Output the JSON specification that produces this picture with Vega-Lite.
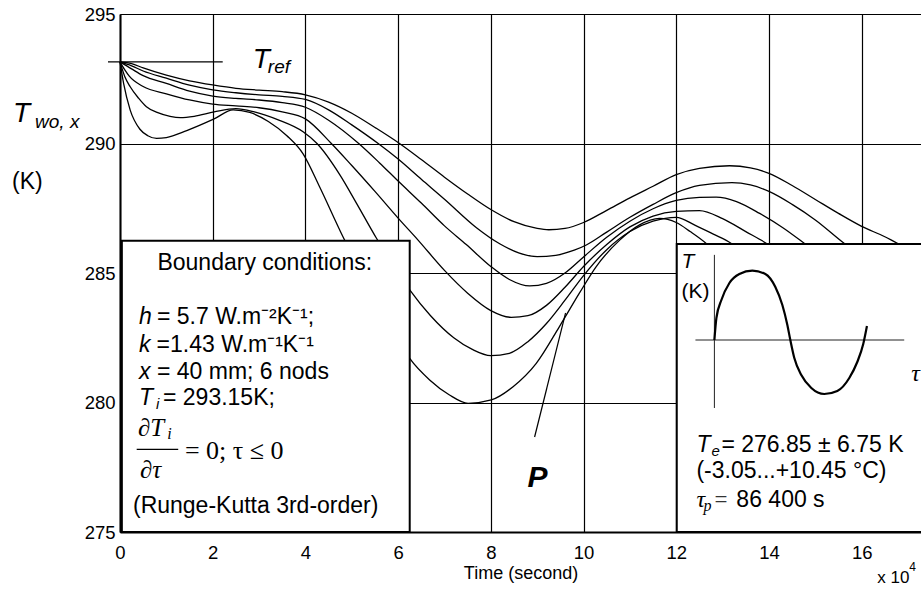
{
  "$schema": "https://vega.github.io/schema/vega-lite/v6.json",
  "width": 801,
  "height": 518,
  "autosize": {"type": "none"},
  "padding": {"left": 120, "top": 14, "right": 0, "bottom": 58},
  "background": "#ffffff",
  "config": {
    "view": {"stroke": null},
    "font": "Liberation Sans",
    "text": {"color": "#000"},
    "axis": {"grid": true, "gridColor": "#000", "gridWidth": 1.2, "gridOpacity": 1, "ticks": false, "domainColor": "#000", "domainWidth": 2, "labelFont": "Liberation Sans", "labelFontSize": 18.5, "labelColor": "#000", "labelOverlap": false, "titleFont": "Liberation Sans", "titleFontSize": 18, "titleFontWeight": "normal", "titleColor": "#000"},
    "axisX": {"labelPadding": 11, "labelFlush": false, "titlePadding": 3, "tickCount": 9},
    "axisY": {"labelPadding": 5, "tickCount": 5}
  },
  "datasets": {
    "curves": [
      {"node":1,"t":0,"T":293.15},{"node":1,"t":0.25,"T":293.08},{"node":1,"t":0.5,"T":292.92},{"node":1,"t":1,"T":292.64},{"node":1,"t":1.5,"T":292.42},{"node":1,"t":2,"T":292.26},{"node":1,"t":2.5,"T":292.13},{"node":1,"t":3,"T":292.06},{"node":1,"t":3.5,"T":292.0},{"node":1,"t":4,"T":291.88},{"node":1,"t":4.5,"T":291.6},{"node":1,"t":5,"T":291.17},{"node":1,"t":5.5,"T":290.62},{"node":1,"t":6.03,"T":290.0},{"node":1,"t":6.5,"T":289.38},{"node":1,"t":7,"T":288.7},{"node":1,"t":7.5,"T":288.05},{"node":1,"t":8,"T":287.45},{"node":1,"t":8.5,"T":286.98},{"node":1,"t":9,"T":286.72},{"node":1,"t":9.25,"T":286.67},{"node":1,"t":9.6,"T":286.72},{"node":1,"t":10,"T":286.95},{"node":1,"t":10.5,"T":287.42},{"node":1,"t":11,"T":287.9},{"node":1,"t":11.5,"T":288.35},{"node":1,"t":12,"T":288.8},{"node":1,"t":12.5,"T":289.04},{"node":1,"t":13.15,"T":289.14},{"node":1,"t":13.6,"T":289.06},{"node":1,"t":14,"T":288.85},{"node":1,"t":14.5,"T":288.38},{"node":1,"t":15,"T":287.84},{"node":1,"t":15.5,"T":287.3},{"node":1,"t":16,"T":286.8},{"node":1,"t":16.5,"T":286.4},{"node":1,"t":16.77,"T":286.15},{"node":1,"t":17.28,"T":285.75},
      {"node":2,"t":0,"T":293.15},{"node":2,"t":0.25,"T":293.0},{"node":2,"t":0.5,"T":292.8},{"node":2,"t":1,"T":292.52},{"node":2,"t":1.5,"T":292.25},{"node":2,"t":2,"T":292.07},{"node":2,"t":2.5,"T":291.96},{"node":2,"t":3,"T":291.88},{"node":2,"t":3.5,"T":291.82},{"node":2,"t":4,"T":291.7},{"node":2,"t":4.5,"T":291.3},{"node":2,"t":5,"T":290.72},{"node":2,"t":5.57,"T":290.0},{"node":2,"t":6,"T":289.4},{"node":2,"t":6.5,"T":288.62},{"node":2,"t":7,"T":287.85},{"node":2,"t":7.69,"T":286.75},{"node":2,"t":8.2,"T":286.12},{"node":2,"t":8.6,"T":285.78},{"node":2,"t":9,"T":285.63},{"node":2,"t":9.4,"T":285.68},{"node":2,"t":9.8,"T":285.88},{"node":2,"t":10.06,"T":286.08},{"node":2,"t":10.5,"T":286.58},{"node":2,"t":11,"T":287.15},{"node":2,"t":11.5,"T":287.65},{"node":2,"t":12,"T":288.1},{"node":2,"t":12.5,"T":288.38},{"node":2,"t":13.2,"T":288.49},{"node":2,"t":13.6,"T":288.4},{"node":2,"t":14,"T":288.15},{"node":2,"t":14.5,"T":287.65},{"node":2,"t":15,"T":287.05},{"node":2,"t":15.62,"T":286.15},{"node":2,"t":16,"T":285.65},{"node":2,"t":16.5,"T":285.05},{"node":2,"t":17,"T":284.5},{"node":2,"t":17.28,"T":284.2},
      {"node":3,"t":0,"T":293.15},{"node":3,"t":0.25,"T":292.88},{"node":3,"t":0.5,"T":292.62},{"node":3,"t":1,"T":292.32},{"node":3,"t":1.5,"T":292.02},{"node":3,"t":2,"T":291.83},{"node":3,"t":2.5,"T":291.74},{"node":3,"t":3,"T":291.68},{"node":3,"t":3.5,"T":291.58},{"node":3,"t":4,"T":291.4},{"node":3,"t":4.5,"T":290.9},{"node":3,"t":5.15,"T":290.0},{"node":3,"t":5.6,"T":289.25},{"node":3,"t":6,"T":288.55},{"node":3,"t":6.5,"T":287.7},{"node":3,"t":7,"T":286.82},{"node":3,"t":7.47,"T":286.1},{"node":3,"t":8,"T":285.25},{"node":3,"t":8.4,"T":284.75},{"node":3,"t":8.84,"T":284.5},{"node":3,"t":9.2,"T":284.6},{"node":3,"t":9.6,"T":285.0},{"node":3,"t":10,"T":285.62},{"node":3,"t":10.5,"T":286.38},{"node":3,"t":11,"T":287.0},{"node":3,"t":11.5,"T":287.48},{"node":3,"t":12,"T":287.8},{"node":3,"t":12.5,"T":287.92},{"node":3,"t":12.86,"T":287.93},{"node":3,"t":13.3,"T":287.76},{"node":3,"t":13.8,"T":287.3},{"node":3,"t":14.3,"T":286.75},{"node":3,"t":14.76,"T":286.15},{"node":3,"t":15.2,"T":285.55},{"node":3,"t":15.7,"T":284.85},{"node":3,"t":16.2,"T":284.15},{"node":3,"t":16.7,"T":283.55},{"node":3,"t":17.28,"T":282.9},
      {"node":4,"t":0,"T":293.15},{"node":4,"t":0.1,"T":292.85},{"node":4,"t":0.2,"T":292.6},{"node":4,"t":0.5,"T":292.2},{"node":4,"t":1,"T":291.92},{"node":4,"t":1.5,"T":291.68},{"node":4,"t":2,"T":291.52},{"node":4,"t":2.5,"T":291.45},{"node":4,"t":3,"T":291.38},{"node":4,"t":3.5,"T":291.22},{"node":4,"t":4,"T":290.95},{"node":4,"t":4.56,"T":290.0},{"node":4,"t":5,"T":289.15},{"node":4,"t":5.5,"T":288.15},{"node":4,"t":6,"T":287.12},{"node":4,"t":6.43,"T":286.27},{"node":4,"t":7,"T":285.1},{"node":4,"t":7.5,"T":284.22},{"node":4,"t":8,"T":283.55},{"node":4,"t":8.44,"T":283.29},{"node":4,"t":8.8,"T":283.35},{"node":4,"t":9.2,"T":283.75},{"node":4,"t":9.6,"T":284.45},{"node":4,"t":10,"T":285.25},{"node":4,"t":10.5,"T":286.1},{"node":4,"t":11,"T":286.78},{"node":4,"t":11.5,"T":287.2},{"node":4,"t":12,"T":287.38},{"node":4,"t":12.5,"T":287.41},{"node":4,"t":13,"T":287.1},{"node":4,"t":13.5,"T":286.6},{"node":4,"t":13.94,"T":286.15},{"node":4,"t":14.5,"T":285.42},{"node":4,"t":15,"T":284.72},{"node":4,"t":15.5,"T":284.02},{"node":4,"t":16,"T":283.35},{"node":4,"t":16.5,"T":282.75},{"node":4,"t":17,"T":282.2},{"node":4,"t":17.28,"T":281.9},
      {"node":5,"t":0,"T":293.15},{"node":5,"t":0.1,"T":292.6},{"node":5,"t":0.22,"T":292.19},{"node":5,"t":0.4,"T":291.75},{"node":5,"t":0.57,"T":291.42},{"node":5,"t":0.8,"T":291.2},{"node":5,"t":1.08,"T":291.05},{"node":5,"t":1.3,"T":291.0},{"node":5,"t":1.6,"T":291.05},{"node":5,"t":2.03,"T":291.22},{"node":5,"t":2.5,"T":291.35},{"node":5,"t":2.9,"T":291.22},{"node":5,"t":3.4,"T":290.92},{"node":5,"t":3.95,"T":290.45},{"node":5,"t":4.25,"T":290.0},{"node":5,"t":4.74,"T":288.8},{"node":5,"t":5.1,"T":287.7},{"node":5,"t":5.53,"T":286.35},{"node":5,"t":6,"T":285.0},{"node":5,"t":6.25,"T":284.35},{"node":5,"t":6.7,"T":283.35},{"node":5,"t":7.2,"T":282.5},{"node":5,"t":7.6,"T":282.05},{"node":5,"t":8.0,"T":281.81},{"node":5,"t":8.4,"T":281.9},{"node":5,"t":8.8,"T":282.35},{"node":5,"t":9.2,"T":283.05},{"node":5,"t":9.6,"T":283.95},{"node":5,"t":10,"T":284.9},{"node":5,"t":10.5,"T":285.9},{"node":5,"t":11,"T":286.6},{"node":5,"t":11.5,"T":287.0},{"node":5,"t":12,"T":287.15},{"node":5,"t":12.4,"T":286.85},{"node":5,"t":12.8,"T":286.5},{"node":5,"t":13.18,"T":286.15},{"node":5,"t":13.6,"T":285.55},{"node":5,"t":14.2,"T":284.7},{"node":5,"t":14.8,"T":283.8},{"node":5,"t":15.4,"T":283.0},{"node":5,"t":16,"T":282.3},{"node":5,"t":16.6,"T":281.7},{"node":5,"t":17.28,"T":281.1},
      {"node":6,"t":0,"T":293.15},{"node":6,"t":0.08,"T":292.3},{"node":6,"t":0.22,"T":291.29},{"node":6,"t":0.43,"T":290.55},{"node":6,"t":0.6,"T":290.3},{"node":6,"t":0.79,"T":290.2},{"node":6,"t":1.0,"T":290.23},{"node":6,"t":1.44,"T":290.5},{"node":6,"t":2.03,"T":290.95},{"node":6,"t":2.44,"T":291.3},{"node":6,"t":2.8,"T":291.2},{"node":6,"t":3.2,"T":290.85},{"node":6,"t":3.6,"T":290.3},{"node":6,"t":3.95,"T":289.6},{"node":6,"t":4.3,"T":288.35},{"node":6,"t":4.81,"T":286.4},{"node":6,"t":5.3,"T":284.7},{"node":6,"t":5.8,"T":283.1},{"node":6,"t":6.25,"T":281.7},{"node":6,"t":6.68,"T":280.87},{"node":6,"t":7.1,"T":280.3},{"node":6,"t":7.51,"T":279.97},{"node":6,"t":8.01,"T":280.1},{"node":6,"t":8.48,"T":280.61},{"node":6,"t":8.98,"T":281.51},{"node":6,"t":9.48,"T":282.93},{"node":6,"t":9.91,"T":284.22},{"node":6,"t":10.27,"T":285.24},{"node":6,"t":10.78,"T":286.27},{"node":6,"t":11.2,"T":286.85},{"node":6,"t":11.64,"T":287.11},{"node":6,"t":12.0,"T":286.95},{"node":6,"t":12.3,"T":286.6},{"node":6,"t":12.64,"T":286.15},{"node":6,"t":13.1,"T":285.3},{"node":6,"t":13.6,"T":284.4},{"node":6,"t":14.2,"T":283.4},{"node":6,"t":14.8,"T":282.5},{"node":6,"t":15.4,"T":281.7},{"node":6,"t":16,"T":281.0},{"node":6,"t":16.6,"T":280.5},{"node":6,"t":17.28,"T":280.1}
    ],
    "boxes": [
      {"name":"conditions","t1":0.04,"t2":6.25,"T1":275,"T2":286.247},
      {"name":"excitation","t1":12.011,"t2":17.45,"T1":275,"T2":286.12}
    ],
    "segments": [
      {"name":"Tref","t1":-0.259,"t2":2.216,"T1":293.15,"T2":293.15},
      {"name":"P","t1":8.944,"t2":9.612,"T1":278.668,"T2":283.456},
      {"name":"fraction","t1":0.36,"t2":1.256,"T1":278.19,"T2":278.19}
    ],
    "insetAxes": [
      {"name":"vertical","t1":12.823,"t2":12.823,"T1":285.7,"T2":279.788},
      {"name":"horizontal","t1":12.414,"t2":16.918,"T1":282.413,"T2":282.413}
    ],
    "sine": [
      {"t":12.823,"T":282.413},{"t":12.866,"T":283.263},{"t":12.974,"T":283.958},{"t":13.147,"T":284.614},{"t":13.362,"T":284.961},{"t":13.642,"T":285.089},{"t":13.922,"T":284.961},{"t":14.138,"T":284.459},{"t":14.289,"T":283.764},{"t":14.397,"T":282.992},{"t":14.461,"T":282.413},{"t":14.547,"T":281.718},{"t":14.698,"T":281.062},{"t":14.914,"T":280.56},{"t":15.194,"T":280.328},{"t":15.474,"T":280.444},{"t":15.733,"T":280.946},{"t":15.905,"T":281.564},{"t":16.034,"T":282.259},{"t":16.114,"T":282.954}
    ],
    "labels": [
      {"g":"bigItalic","t":-2.306,"T":290.83,"text":"T"},
      {"g":"subItalic","t":-1.832,"T":290.6,"text":"wo, x"},
      {"g":"unit","t":-2.328,"T":288.243,"text":"(K)"},
      {"g":"bigItalic","t":2.866,"T":292.915,"text":"T"},
      {"g":"subItalic","t":3.19,"T":292.722,"text":"ref"},
      {"g":"note","t":16.336,"T":273.031,"text":"x 10"},
      {"g":"exp","t":17.026,"T":273.494,"text":"4"},
      {"g":"boxCenter","t":3.125,"T":285.116,"text":"Boundary conditions:"},
      {"g":"boxItalic","t":0.409,"T":283.031,"text":"h"},
      {"g":"box","t":0.797,"T":283.031,"text":"= 5.7 W.m⁻²K⁻¹;"},
      {"g":"boxItalic","t":0.409,"T":281.961,"text":"k"},
      {"g":"box","t":0.79,"T":281.961,"text":"=1.43 W.m⁻¹K⁻¹"},
      {"g":"boxItalic","t":0.409,"T":280.896,"text":"x"},
      {"g":"box","t":0.797,"T":280.896,"text":"= 40 mm; 6 nods"},
      {"g":"boxItalic","t":0.409,"T":279.9,"text":"T"},
      {"g":"boxSub","t":0.776,"T":279.76,"text":"i"},
      {"g":"box","t":0.927,"T":279.9,"text":"= 293.15K;"},
      {"g":"serifItalic","t":0.388,"T":278.72,"text":"∂T"},
      {"g":"serifSub","t":1.02,"T":278.6,"text":"i"},
      {"g":"serifItalic","t":0.431,"T":277.1,"text":"∂τ"},
      {"g":"serif","t":1.401,"T":277.8,"text":"= 0; τ ≤ 0"},
      {"g":"box","t":0.28,"T":275.734,"text":"(Runge-Kutta 3rd-order)"},
      {"g":"insetItalic","t":12.112,"T":285.193,"text":"T"},
      {"g":"inset","t":12.112,"T":284.035,"text":"(K)"},
      {"g":"serifSmall","t":17.069,"T":280.83,"text":"τ"},
      {"g":"boxItalic","t":12.435,"T":278.101,"text":"T"},
      {"g":"boxSub","t":12.76,"T":277.934,"text":"e"},
      {"g":"box","t":12.974,"T":278.101,"text":"= 276.85 ± 6.75 K"},
      {"g":"box","t":12.435,"T":277.073,"text":"(-3.05...+10.45 °C)"},
      {"g":"serifSmall","t":12.435,"T":275.977,"text":"τ"},
      {"g":"serifSub","t":12.586,"T":275.811,"text":"p"},
      {"g":"serifEq","t":12.823,"T":275.977,"text":"="},
      {"g":"box","t":13.297,"T":275.977,"text":"86 400 s"},
      {"g":"pointLabel","t":9.009,"T":276.737,"text":"P"}
    ]
  },
  "layer": [
    {
      "data": {"name": "curves"},
      "mark": {"type": "line", "interpolate": "monotone", "stroke": "#000", "strokeWidth": 1.3},
      "encoding": {
        "x": {"field": "t", "type": "quantitative", "title": "Time (second)", "scale": {"domain": [0, 17.28], "nice": false, "zero": false}},
        "y": {"field": "T", "type": "quantitative", "title": null, "scale": {"domain": [275, 295], "nice": false, "zero": false}},
        "detail": {"field": "node", "type": "nominal"}
      }
    },
    {
      "data": {"name": "boxes"},
      "mark": {"type": "rect", "fill": "#fff", "stroke": "#000", "strokeWidth": 2},
      "encoding": {
        "x": {"field": "t1", "type": "quantitative", "title": "Time (second)", "scale": {"domain": [0, 17.28], "nice": false, "zero": false}},
        "x2": {"field": "t2"},
        "y": {"field": "T1", "type": "quantitative", "title": null, "scale": {"domain": [275, 295], "nice": false, "zero": false}},
        "y2": {"field": "T2"}
      }
    },
    {
      "data": {"name": "segments"},
      "mark": {"type": "rule", "stroke": "#000", "strokeWidth": 1.2},
      "encoding": {
        "x": {"field": "t1", "type": "quantitative", "title": "Time (second)", "scale": {"domain": [0, 17.28], "nice": false, "zero": false}},
        "x2": {"field": "t2"},
        "y": {"field": "T1", "type": "quantitative", "title": null, "scale": {"domain": [275, 295], "nice": false, "zero": false}},
        "y2": {"field": "T2"}
      }
    },
    {
      "data": {"name": "insetAxes"},
      "mark": {"type": "rule", "stroke": "#222", "strokeWidth": 1},
      "encoding": {
        "x": {"field": "t1", "type": "quantitative", "title": "Time (second)", "scale": {"domain": [0, 17.28], "nice": false, "zero": false}},
        "x2": {"field": "t2"},
        "y": {"field": "T1", "type": "quantitative", "title": null, "scale": {"domain": [275, 295], "nice": false, "zero": false}},
        "y2": {"field": "T2"}
      }
    },
    {
      "data": {"name": "sine"},
      "mark": {"type": "line", "interpolate": "monotone", "stroke": "#000", "strokeWidth": 2.2},
      "encoding": {
        "x": {"field": "t", "type": "quantitative", "title": "Time (second)", "scale": {"domain": [0, 17.28], "nice": false, "zero": false}},
        "y": {"field": "T", "type": "quantitative", "title": null, "scale": {"domain": [275, 295], "nice": false, "zero": false}}
      }
    },
    {
      "data": {"name": "labels"},
      "transform": [{"filter": "datum.g === 'bigItalic'"}],
      "mark": {"type": "text", "align": "left", "baseline": "alphabetic", "font": "Liberation Sans", "fontStyle": "italic", "fontSize": 28},
      "encoding": {
        "x": {"field": "t", "type": "quantitative", "title": "Time (second)", "scale": {"domain": [0, 17.28], "nice": false, "zero": false}},
        "y": {"field": "T", "type": "quantitative", "title": null, "scale": {"domain": [275, 295], "nice": false, "zero": false}},
        "text": {"field": "text"}
      }
    },
    {
      "data": {"name": "labels"},
      "transform": [{"filter": "datum.g === 'subItalic'"}],
      "mark": {"type": "text", "align": "left", "baseline": "alphabetic", "font": "Liberation Sans", "fontStyle": "italic", "fontSize": 19},
      "encoding": {
        "x": {"field": "t", "type": "quantitative", "title": "Time (second)", "scale": {"domain": [0, 17.28], "nice": false, "zero": false}},
        "y": {"field": "T", "type": "quantitative", "title": null, "scale": {"domain": [275, 295], "nice": false, "zero": false}},
        "text": {"field": "text"}
      }
    },
    {
      "data": {"name": "labels"},
      "transform": [{"filter": "datum.g === 'unit'"}],
      "mark": {"type": "text", "align": "left", "baseline": "alphabetic", "font": "Liberation Sans", "fontSize": 23},
      "encoding": {
        "x": {"field": "t", "type": "quantitative", "title": "Time (second)", "scale": {"domain": [0, 17.28], "nice": false, "zero": false}},
        "y": {"field": "T", "type": "quantitative", "title": null, "scale": {"domain": [275, 295], "nice": false, "zero": false}},
        "text": {"field": "text"}
      }
    },
    {
      "data": {"name": "labels"},
      "transform": [{"filter": "datum.g === 'note'"}],
      "mark": {"type": "text", "align": "left", "baseline": "alphabetic", "font": "Liberation Sans", "fontSize": 17},
      "encoding": {
        "x": {"field": "t", "type": "quantitative", "title": "Time (second)", "scale": {"domain": [0, 17.28], "nice": false, "zero": false}},
        "y": {"field": "T", "type": "quantitative", "title": null, "scale": {"domain": [275, 295], "nice": false, "zero": false}},
        "text": {"field": "text"}
      }
    },
    {
      "data": {"name": "labels"},
      "transform": [{"filter": "datum.g === 'exp'"}],
      "mark": {"type": "text", "align": "left", "baseline": "alphabetic", "font": "Liberation Sans", "fontSize": 12},
      "encoding": {
        "x": {"field": "t", "type": "quantitative", "title": "Time (second)", "scale": {"domain": [0, 17.28], "nice": false, "zero": false}},
        "y": {"field": "T", "type": "quantitative", "title": null, "scale": {"domain": [275, 295], "nice": false, "zero": false}},
        "text": {"field": "text"}
      }
    },
    {
      "data": {"name": "labels"},
      "transform": [{"filter": "datum.g === 'boxCenter'"}],
      "mark": {"type": "text", "align": "center", "baseline": "alphabetic", "font": "Liberation Sans", "fontSize": 23},
      "encoding": {
        "x": {"field": "t", "type": "quantitative", "title": "Time (second)", "scale": {"domain": [0, 17.28], "nice": false, "zero": false}},
        "y": {"field": "T", "type": "quantitative", "title": null, "scale": {"domain": [275, 295], "nice": false, "zero": false}},
        "text": {"field": "text"}
      }
    },
    {
      "data": {"name": "labels"},
      "transform": [{"filter": "datum.g === 'box'"}],
      "mark": {"type": "text", "align": "left", "baseline": "alphabetic", "font": "Liberation Sans", "fontSize": 23},
      "encoding": {
        "x": {"field": "t", "type": "quantitative", "title": "Time (second)", "scale": {"domain": [0, 17.28], "nice": false, "zero": false}},
        "y": {"field": "T", "type": "quantitative", "title": null, "scale": {"domain": [275, 295], "nice": false, "zero": false}},
        "text": {"field": "text"}
      }
    },
    {
      "data": {"name": "labels"},
      "transform": [{"filter": "datum.g === 'boxItalic'"}],
      "mark": {"type": "text", "align": "left", "baseline": "alphabetic", "font": "Liberation Sans", "fontStyle": "italic", "fontSize": 23},
      "encoding": {
        "x": {"field": "t", "type": "quantitative", "title": "Time (second)", "scale": {"domain": [0, 17.28], "nice": false, "zero": false}},
        "y": {"field": "T", "type": "quantitative", "title": null, "scale": {"domain": [275, 295], "nice": false, "zero": false}},
        "text": {"field": "text"}
      }
    },
    {
      "data": {"name": "labels"},
      "transform": [{"filter": "datum.g === 'boxSub'"}],
      "mark": {"type": "text", "align": "left", "baseline": "alphabetic", "font": "Liberation Sans", "fontStyle": "italic", "fontSize": 15},
      "encoding": {
        "x": {"field": "t", "type": "quantitative", "title": "Time (second)", "scale": {"domain": [0, 17.28], "nice": false, "zero": false}},
        "y": {"field": "T", "type": "quantitative", "title": null, "scale": {"domain": [275, 295], "nice": false, "zero": false}},
        "text": {"field": "text"}
      }
    },
    {
      "data": {"name": "labels"},
      "transform": [{"filter": "datum.g === 'serifItalic'"}],
      "mark": {"type": "text", "align": "left", "baseline": "alphabetic", "font": "Liberation Serif", "fontStyle": "italic", "fontSize": 25},
      "encoding": {
        "x": {"field": "t", "type": "quantitative", "title": "Time (second)", "scale": {"domain": [0, 17.28], "nice": false, "zero": false}},
        "y": {"field": "T", "type": "quantitative", "title": null, "scale": {"domain": [275, 295], "nice": false, "zero": false}},
        "text": {"field": "text"}
      }
    },
    {
      "data": {"name": "labels"},
      "transform": [{"filter": "datum.g === 'serifSmall'"}],
      "mark": {"type": "text", "align": "left", "baseline": "alphabetic", "font": "Liberation Serif", "fontStyle": "italic", "fontSize": 24},
      "encoding": {
        "x": {"field": "t", "type": "quantitative", "title": "Time (second)", "scale": {"domain": [0, 17.28], "nice": false, "zero": false}},
        "y": {"field": "T", "type": "quantitative", "title": null, "scale": {"domain": [275, 295], "nice": false, "zero": false}},
        "text": {"field": "text"}
      }
    },
    {
      "data": {"name": "labels"},
      "transform": [{"filter": "datum.g === 'serifSub'"}],
      "mark": {"type": "text", "align": "left", "baseline": "alphabetic", "font": "Liberation Serif", "fontStyle": "italic", "fontSize": 16},
      "encoding": {
        "x": {"field": "t", "type": "quantitative", "title": "Time (second)", "scale": {"domain": [0, 17.28], "nice": false, "zero": false}},
        "y": {"field": "T", "type": "quantitative", "title": null, "scale": {"domain": [275, 295], "nice": false, "zero": false}},
        "text": {"field": "text"}
      }
    },
    {
      "data": {"name": "labels"},
      "transform": [{"filter": "datum.g === 'serif'"}],
      "mark": {"type": "text", "align": "left", "baseline": "alphabetic", "font": "Liberation Serif", "fontSize": 26},
      "encoding": {
        "x": {"field": "t", "type": "quantitative", "title": "Time (second)", "scale": {"domain": [0, 17.28], "nice": false, "zero": false}},
        "y": {"field": "T", "type": "quantitative", "title": null, "scale": {"domain": [275, 295], "nice": false, "zero": false}},
        "text": {"field": "text"}
      }
    },
    {
      "data": {"name": "labels"},
      "transform": [{"filter": "datum.g === 'serifEq'"}],
      "mark": {"type": "text", "align": "left", "baseline": "alphabetic", "font": "Liberation Serif", "fontSize": 23, "color": "#333"},
      "encoding": {
        "x": {"field": "t", "type": "quantitative", "title": "Time (second)", "scale": {"domain": [0, 17.28], "nice": false, "zero": false}},
        "y": {"field": "T", "type": "quantitative", "title": null, "scale": {"domain": [275, 295], "nice": false, "zero": false}},
        "text": {"field": "text"}
      }
    },
    {
      "data": {"name": "labels"},
      "transform": [{"filter": "datum.g === 'insetItalic'"}],
      "mark": {"type": "text", "align": "left", "baseline": "alphabetic", "font": "Liberation Sans", "fontStyle": "italic", "fontSize": 21},
      "encoding": {
        "x": {"field": "t", "type": "quantitative", "title": "Time (second)", "scale": {"domain": [0, 17.28], "nice": false, "zero": false}},
        "y": {"field": "T", "type": "quantitative", "title": null, "scale": {"domain": [275, 295], "nice": false, "zero": false}},
        "text": {"field": "text"}
      }
    },
    {
      "data": {"name": "labels"},
      "transform": [{"filter": "datum.g === 'inset'"}],
      "mark": {"type": "text", "align": "left", "baseline": "alphabetic", "font": "Liberation Sans", "fontSize": 21},
      "encoding": {
        "x": {"field": "t", "type": "quantitative", "title": "Time (second)", "scale": {"domain": [0, 17.28], "nice": false, "zero": false}},
        "y": {"field": "T", "type": "quantitative", "title": null, "scale": {"domain": [275, 295], "nice": false, "zero": false}},
        "text": {"field": "text"}
      }
    },
    {
      "data": {"name": "labels"},
      "transform": [{"filter": "datum.g === 'pointLabel'"}],
      "mark": {"type": "text", "align": "center", "baseline": "alphabetic", "font": "Liberation Sans", "fontStyle": "italic", "fontWeight": "bold", "fontSize": 30},
      "encoding": {
        "x": {"field": "t", "type": "quantitative", "title": "Time (second)", "scale": {"domain": [0, 17.28], "nice": false, "zero": false}},
        "y": {"field": "T", "type": "quantitative", "title": null, "scale": {"domain": [275, 295], "nice": false, "zero": false}},
        "text": {"field": "text"}
      }
    }
  ]
}
